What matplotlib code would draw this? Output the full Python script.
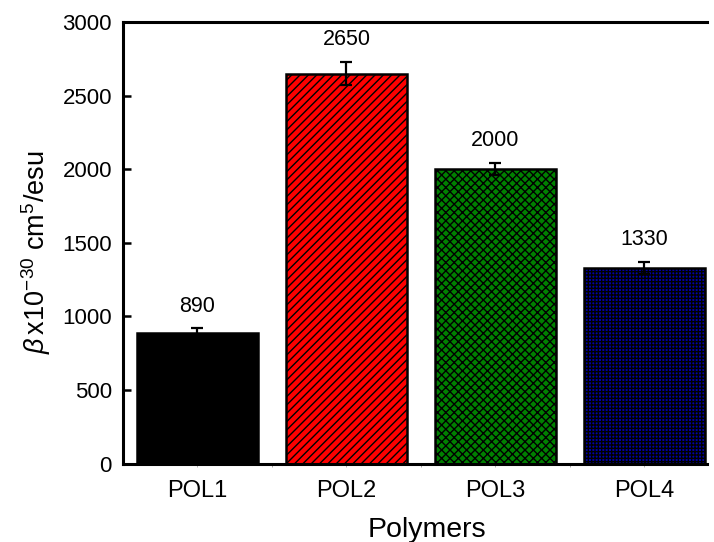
import matplotlib
matplotlib.use("Agg")
import matplotlib.pyplot as plt
import numpy as np

categories = ["POL1", "POL2", "POL3", "POL4"]
beta_values = [890, 2650, 2000, 1330]
beta_errors = [28, 80, 42, 42]
bar_colors = ["#000000", "#FF0000", "#008000", "#0000A8"]
bar_hatches = [None, "////", "xxxx", "+++++"]
y_ticks = [0, 500, 1000, 1500, 2000, 2500, 3000]

plt.rcParams["font.family"] = ["Liberation Sans", "DejaVu Sans"]
plt.rcParams["mathtext.fontset"] = "custom"
plt.rcParams["mathtext.rm"] = "Liberation Sans"
plt.rcParams["mathtext.it"] = "Liberation Sans:italic"
plt.rcParams["hatch.linewidth"] = 1.0
plt.rcParams["hatch.color"] = "black"

W, H = 714, 542
fig = plt.figure(figsize=(W / 100, H / 100), dpi=100)
ax = fig.add_axes([123 / W, 1 - 463.5 / H, (707 - 123) / W, (463.5 - 22) / H])

x = np.arange(len(categories))
for xi, v, c, h in zip(x, beta_values, bar_colors, bar_hatches):
    ax.bar(xi, v, width=0.81, color=c, edgecolor="black", linewidth=1.8,
           hatch=h, zorder=2)

ax.errorbar(x, beta_values, yerr=beta_errors, fmt="none", ecolor="black",
            elinewidth=1.6, capsize=4, capthick=1.6, zorder=3)

for xi, v, e in zip(x, beta_values, beta_errors):
    ax.annotate(f"{v}", (xi, v + e), xytext=(0, 8.5), textcoords="offset points",
                ha="center", va="bottom", fontsize=15.5)

ax.set_xlim(-0.5, 3.42)
ax.set_ylim(0, 3000)
ax.set_yticks(y_ticks)
ax.set_xticks(x)
ax.set_xticklabels(categories)
ax.set_xticks([0.5, 1.5, 2.5], minor=True)

ax.tick_params(axis="y", direction="in", length=6, width=1.8, labelsize=16, pad=8)
ax.tick_params(axis="x", which="major", direction="out", length=2, width=0.6,
               color="#aaaaaa", labelsize=17, pad=10)
ax.tick_params(axis="x", which="minor", direction="out", length=2.5, width=0.6,
               color="#999999")

for side in ["left", "bottom", "top"]:
    ax.spines[side].set_linewidth(2.2)
ax.spines["right"].set_visible(False)

fig.text(427 / W, 1 - 537 / H, "Polymers", fontsize=20.5, ha="center",
         va="baseline")
fig.text(36 / W, 1 - 252 / H, r"$\beta\,$x10$^{\mathrm{-30}}$ cm$^{5}$/esu",
         fontsize=19.5, rotation=90, ha="center", va="center")

fig.savefig("out.png", dpi=100)
